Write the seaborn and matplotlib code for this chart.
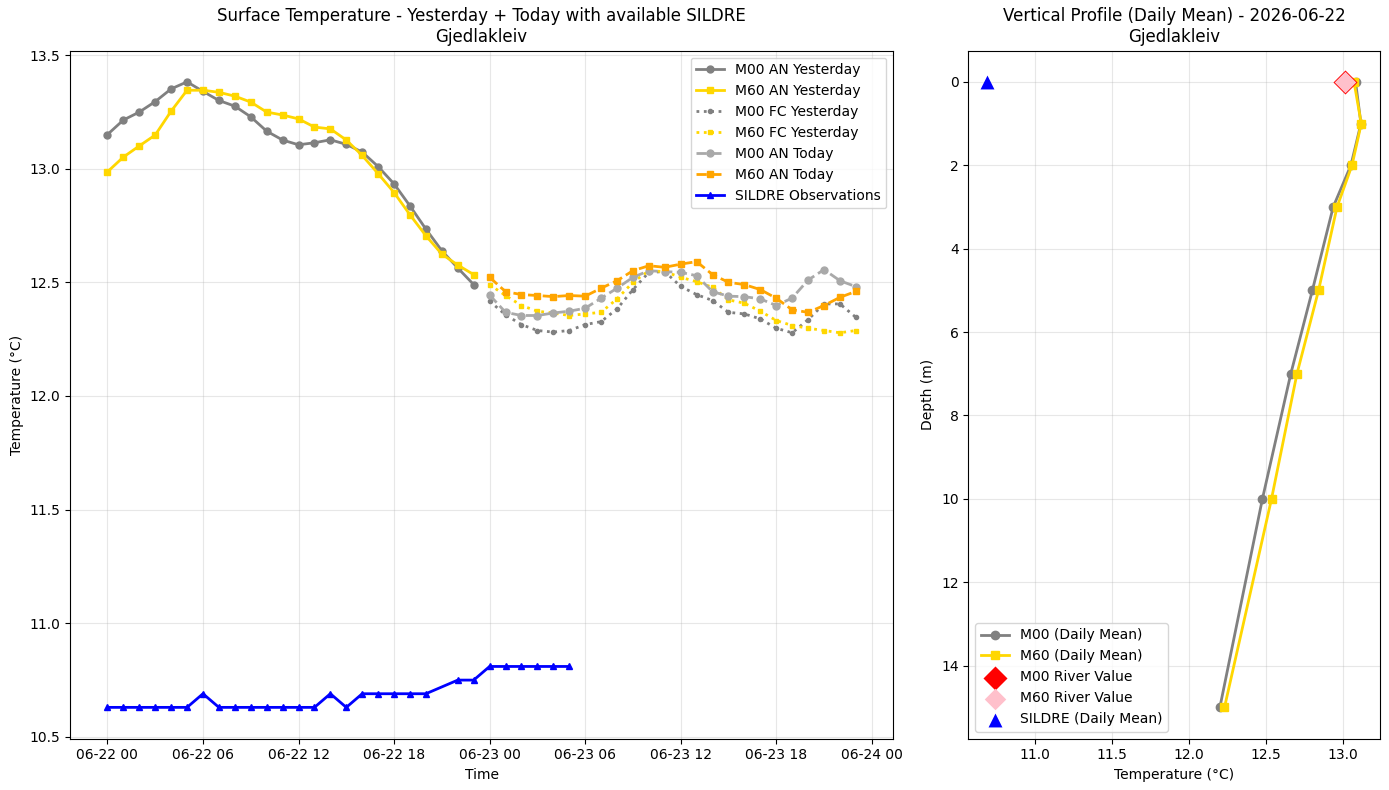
import numpy as np
import pandas as pd
import seaborn as sns
import matplotlib
matplotlib.use("Agg")
import matplotlib.pyplot as plt
import matplotlib.dates as mdates

station = "Gjedlakleiv"

# hourly surface temperature (°C)
m00_an_yday = [13.15, 13.214, 13.249, 13.295, 13.351, 13.382, 13.34, 13.30, 13.275, 13.228, 13.165, 13.126,
               13.105, 13.114, 13.127, 13.107, 13.073, 13.009, 12.933, 12.836, 12.734, 12.639, 12.563, 12.49]
m60_an_yday = [12.986, 13.051, 13.10, 13.148, 13.253, 13.345, 13.345, 13.336, 13.319, 13.293, 13.249, 13.236,
               13.219, 13.183, 13.175, 13.126, 13.058, 12.978, 12.895, 12.797, 12.705, 12.624, 12.576, 12.534]
m00_fc_yday = [12.417, 12.357, 12.314, 12.288, 12.281, 12.288, 12.314, 12.327, 12.383, 12.468, 12.544, 12.547,
               12.482, 12.446, 12.42, 12.368, 12.361, 12.339, 12.298, 12.278, 12.336, 12.405, 12.405, 12.346]
m60_fc_yday = [12.49, 12.442, 12.398, 12.373, 12.365, 12.354, 12.361, 12.368, 12.427, 12.50, 12.551, 12.547,
               12.522, 12.503, 12.478, 12.423, 12.408, 12.373, 12.332, 12.31, 12.298, 12.288, 12.278, 12.288]
m00_an_today = [12.444, 12.368, 12.354, 12.354, 12.365, 12.373, 12.386, 12.43, 12.474, 12.522, 12.551, 12.547,
                12.544, 12.529, 12.459, 12.439, 12.437, 12.427, 12.398, 12.431, 12.51, 12.556, 12.507, 12.481]
m60_an_today = [12.522, 12.459, 12.446, 12.442, 12.437, 12.442, 12.439, 12.474, 12.507, 12.551, 12.573, 12.566,
                12.58, 12.591, 12.534, 12.50, 12.49, 12.468, 12.43, 12.379, 12.368, 12.398, 12.434, 12.46]

# SILDRE observations (hour 21 missing)
obs_hours = [0, 1, 2, 3, 4, 5, 6, 7, 8, 9, 10, 11, 12, 13, 14, 15, 16, 17, 18, 19, 20,
             22, 23, 24, 25, 26, 27, 28, 29]
obs_temp = [10.63, 10.63, 10.63, 10.63, 10.63, 10.63, 10.69, 10.63, 10.63, 10.63, 10.63, 10.63, 10.63, 10.63,
            10.69, 10.63, 10.69, 10.69, 10.69, 10.69, 10.69, 10.75, 10.75, 10.81, 10.81, 10.81, 10.81, 10.81, 10.81]

# vertical profile (daily mean)
depths = [0, 1, 2, 3, 5, 7, 10, 15]
m00_profile = [13.08, 13.115, 13.05, 12.935, 12.80, 12.66, 12.476, 12.20]
m60_profile = [13.07, 13.117, 13.057, 12.96, 12.84, 12.70, 12.535, 12.23]
m00_river = 13.01
m60_river = 13.01

yday = pd.date_range("2026-06-22 00:00", periods=24, freq="h")
today = pd.date_range("2026-06-23 00:00", periods=24, freq="h")
obs_time = pd.Timestamp("2026-06-22") + pd.to_timedelta(obs_hours, unit="h")

fig, (ax1, ax2) = plt.subplots(1, 2, figsize=(13.89, 7.9), dpi=100, gridspec_kw={"width_ratios": [2, 1]})


def line(ax, x, y, label, color, ls="-", marker="o", ms=5):
    sns.lineplot(x=x, y=y, ax=ax, label=label, color=color, linestyle=ls, linewidth=2,
                 marker=marker, markersize=ms, markeredgecolor=color, markeredgewidth=1, sort=False)


line(ax1, yday, m00_an_yday, "M00 AN Yesterday", "gray", "-", "o")
line(ax1, yday, m60_an_yday, "M60 AN Yesterday", "gold", "-", "s")
line(ax1, today, m00_fc_yday, "M00 FC Yesterday", "gray", ":", "o", 3)
line(ax1, today, m60_fc_yday, "M60 FC Yesterday", "gold", ":", "s", 3)
line(ax1, today, m00_an_today, "M00 AN Today", "darkgray", "--", "o")
line(ax1, today, m60_an_today, "M60 AN Today", "orange", "--", "s")
line(ax1, obs_time, obs_temp, "SILDRE Observations", "blue", "-", "^", 5)

ax1.set_title("Surface Temperature - Yesterday + Today with available SILDRE\n" + station)
ax1.set_xlabel("Time")
ax1.set_ylabel("Temperature (°C)")
ax1.xaxis.set_major_locator(mdates.HourLocator(byhour=[0, 6, 12, 18]))
ax1.xaxis.set_major_formatter(mdates.DateFormatter("%m-%d %H"))
ax1.grid(True, alpha=0.3)
ax1.legend(loc="upper right")

# profile
line(ax2, m00_profile, depths, "M00 (Daily Mean)", "gray", "-", "o", 6)
line(ax2, m60_profile, depths, "M60 (Daily Mean)", "gold", "-", "s", 6)
sns.scatterplot(x=[m00_river], y=[0], ax=ax2, marker="D", s=150, color="red", edgecolor="red",
                linewidth=0, label="M00 River Value", zorder=5)
sns.scatterplot(x=[m60_river], y=[0], ax=ax2, marker="D", s=120, color="pink", edgecolor="pink",
                linewidth=0, label="M60 River Value", zorder=6)
sns.scatterplot(x=[np.mean(obs_temp)], y=[0], ax=ax2, marker="^", s=100, color="blue", edgecolor="blue",
                linewidth=0, label="SILDRE (Daily Mean)", zorder=5)
ax2.invert_yaxis()
ax2.set_title("Vertical Profile (Daily Mean) - 2026-06-22\n" + station)
ax2.set_xlabel("Temperature (°C)")
ax2.set_ylabel("Depth (m)")
ax2.grid(True, alpha=0.3)
ax2.legend(loc="lower left")

plt.subplots_adjust(left=0.0504, right=0.9935, bottom=0.065, top=0.936, wspace=0.1215)
plt.savefig("out.png")
